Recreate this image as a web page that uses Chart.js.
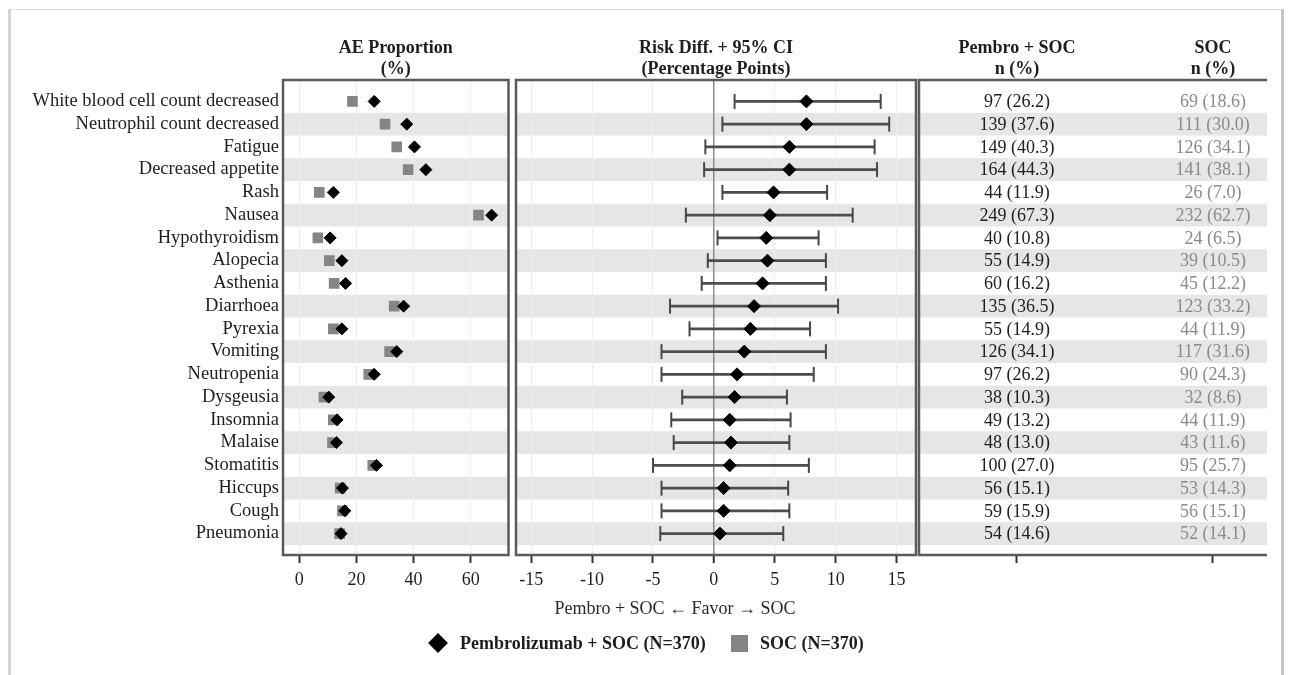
<!DOCTYPE html>
<html>
<head>
<meta charset="utf-8">
<title>Adverse events: proportion and risk difference</title>
<script src="https://cdn.jsdelivr.net/npm/chart.js@4.4.1/dist/chart.umd.min.js"></script>
<style>
  html, body { margin: 0; padding: 0; background: #fff; }
  #page { position: relative; width: 1289px; height: 675px; overflow: hidden;
          font-family: "Liberation Serif", "Times New Roman", serif; color: #1e1e1e; }
  #frame { position: absolute; left: 8px; top: 9px; width: 1270px; height: 720px;
           border-top: 1px solid #dedede; border-left: 3px solid #d4d4d4; border-right: 3px solid #c6c6c6; }
  canvas { position: absolute; top: 0; }
  #c1 { left: 0; }
  #c2 { left: 500px; }
  #c3 { left: 900px; }
  .leg { position: absolute; font-weight: bold; font-size: 18px; line-height: 20px; top: 633px; white-space: nowrap; }
  .sym { position: absolute; }
  #symDiamond { left: 431px; top: 636px; width: 14px; height: 14px; background: #000; transform: rotate(45deg); }
  #symSquare { left: 731px; top: 635px; width: 17px; height: 17px; background: #858585; }
</style>
</head>
<body>
<div id="page">
  <div id="frame"></div>
  <canvas id="c1" width="516" height="675"></canvas>
  <canvas id="c2" width="430" height="675"></canvas>
  <canvas id="c3" width="389" height="675"></canvas>
  <div class="sym" id="symDiamond"></div>
  <div class="leg" id="legPembro" style="left:460px"></div>
  <div class="sym" id="symSquare"></div>
  <div class="leg" id="legSoc" style="left:760px"></div>
</div>
<script>
// ---- data ----
const categories = [
  'White blood cell count decreased', 'Neutrophil count decreased', 'Fatigue',
  'Decreased appetite', 'Rash', 'Nausea', 'Hypothyroidism', 'Alopecia', 'Asthenia',
  'Diarrhoea', 'Pyrexia', 'Vomiting', 'Neutropenia', 'Dysgeusia', 'Insomnia',
  'Malaise', 'Stomatitis', 'Hiccups', 'Cough', 'Pneumonia'
];
const pembroN   = [97, 139, 149, 164, 44, 249, 40, 55, 60, 135, 55, 126, 97, 38, 49, 48, 100, 56, 59, 54];
const pembroPct = [26.2, 37.6, 40.3, 44.3, 11.9, 67.3, 10.8, 14.9, 16.2, 36.5, 14.9, 34.1, 26.2, 10.3, 13.2, 13.0, 27.0, 15.1, 15.9, 14.6];
const socN      = [69, 111, 126, 141, 26, 232, 24, 39, 45, 123, 44, 117, 90, 32, 44, 43, 95, 53, 56, 52];
const socPct    = [18.6, 30.0, 34.1, 38.1, 7.0, 62.7, 6.5, 10.5, 12.2, 33.2, 11.9, 31.6, 24.3, 8.6, 11.9, 11.6, 25.7, 14.3, 15.1, 14.1];
const riskDiff  = [7.6, 7.6, 6.2, 6.2, 4.9, 4.6, 4.3, 4.4, 4.0, 3.3, 3.0, 2.5, 1.9, 1.7, 1.3, 1.4, 1.3, 0.8, 0.8, 0.5];
const ciLow     = [1.7, 0.7, -0.7, -0.8, 0.7, -2.3, 0.3, -0.5, -1.0, -3.6, -2.0, -4.3, -4.3, -2.6, -3.5, -3.3, -5.0, -4.3, -4.3, -4.4];
const ciHigh    = [13.7, 14.4, 13.2, 13.4, 9.3, 11.4, 8.6, 9.2, 9.2, 10.2, 7.9, 9.2, 8.2, 6.0, 6.3, 6.2, 7.8, 6.1, 6.2, 5.7];
const propTicks = [0, 20, 40, 60];
const diffTicks = [-15, -10, -5, 0, 5, 10, 15];
const tableCols = [0, 1];
const pembroLabel = 'Pembrolizumab + SOC (N=370)';
const socLabel = 'SOC (N=370)';
const diffTitle = 'Pembro + SOC \u2190 Favor \u2192 SOC';

// ---- shared look ----
const SERIF = '"Liberation Serif", "Times New Roman", serif';
Chart.defaults.font.family = SERIF;
Chart.defaults.font.size = 18;
Chart.defaults.color = '#1e1e1e';

const rows = categories.map((_, i) => i);
const AREA_BOTTOM = 555;
const BAND = '#e6e6e6';
const FRAME = '#5a5a5a';

document.getElementById('legPembro').textContent = pembroLabel;
document.getElementById('legSoc').textContent = socLabel;

function rowAxis(withLabels) {
  return {
    type: 'linear',
    reverse: true,
    offset: false,
    min: -0.94,
    max: 19.94,
    display: withLabels,
    afterBuildTicks: s => { s.ticks = rows.map(v => ({ value: v })); },
    afterFit: s => { if (withLabels) s.width = 283; },
    grid: { display: false, drawTicks: false, offset: false },
    border: { display: false },
    ticks: { autoSkip: false, padding: 4, color: '#1e1e1e', font: { size: 18.5 }, callback: v => categories[v] }
  };
}

function valueAxis(min, max, tickVals, extra) {
  return Object.assign({
    type: 'linear',
    min: min,
    max: max,
    afterBuildTicks: s => { s.ticks = tickVals.map(v => ({ value: v })); },
    afterFit: s => { s.height = 675 - AREA_BOTTOM; },
    grid: { color: '#eeeeee', lineWidth: 1, tickColor: '#333', tickWidth: 2, tickLength: 8 },
    border: { display: false },
    ticks: { padding: 6, color: '#1e1e1e' }
  }, extra || {});
}

// bands, frame and header text for one panel
function panelPlugin(cfg) {
  return {
    id: 'panel',
    beforeDraw(chart) {
      const { ctx, chartArea: a } = chart;
      const y = chart.scales.y;
      ctx.save();
      ctx.fillStyle = BAND;
      rows.forEach(i => {
        if (i % 2 === 1) {
          const t = y.getPixelForValue(i - 0.5);
          const b = y.getPixelForValue(i + 0.5);
          ctx.fillRect(a.left, t, a.right - a.left, b - t);
        }
      });
      ctx.restore();
    },
    afterDraw(chart) {
      const { ctx, chartArea: a } = chart;
      ctx.save();
      ctx.strokeStyle = FRAME;
      ctx.lineWidth = 2.5;
      if (cfg.openRight) {
        ctx.beginPath();
        ctx.moveTo(a.right, a.top); ctx.lineTo(a.left, a.top);
        ctx.lineTo(a.left, a.bottom); ctx.lineTo(a.right, a.bottom);
        ctx.stroke();
      } else {
        ctx.strokeRect(a.left, a.top, a.right - a.left, a.bottom - a.top);
      }
      // headers
      ctx.fillStyle = '#1e1e1e';
      ctx.textAlign = 'center';
      ctx.textBaseline = 'alphabetic';
      ctx.font = 'bold 18px ' + SERIF;
      cfg.headers.forEach(h => {
        const x = h.col === undefined ? (a.left + a.right) / 2 : chart.scales.x.getPixelForValue(h.col);
        ctx.fillText(h.lines[0], x, 53);
        ctx.fillText(h.lines[1], x, 74);
      });
      if (cfg.afterText) cfg.afterText(chart);
      ctx.restore();
    }
  };
}

// ---- panel 1: AE proportion ----
new Chart(document.getElementById('c1'), {
  type: 'scatter',
  data: {
    datasets: [
      {
        label: pembroLabel,
        data: rows.map(i => ({ x: pembroPct[i], y: i })),
        pointStyle: 'rectRot', pointRadius: 6, borderWidth: 1,
        backgroundColor: '#000', borderColor: '#000'
      },
      {
        label: socLabel,
        data: rows.map(i => ({ x: socPct[i], y: i })),
        pointStyle: 'rect', pointRadius: 7.5, borderWidth: 0,
        backgroundColor: '#858585', borderColor: '#858585'
      }
    ]
  },
  options: {
    responsive: false, animation: false, events: [],
    layout: { padding: { top: 80, right: 4, left: 0, bottom: 0 } },
    plugins: { legend: { display: false }, tooltip: { enabled: false } },
    scales: { x: valueAxis(-5.7, 73.2, propTicks), y: rowAxis(true) }
  },
  plugins: [panelPlugin({ headers: [{ lines: ['AE Proportion', '(%)'] }] })]
});

// ---- panel 2: risk difference with 95% CI ----
new Chart(document.getElementById('c2'), {
  type: 'scatter',
  data: {
    datasets: [
      {
        label: 'Risk difference',
        data: rows.map(i => ({ x: riskDiff[i], y: i })),
        pointStyle: 'rectRot', pointRadius: 6.5, borderWidth: 1,
        backgroundColor: '#000', borderColor: '#000'
      },
      {
        label: 'CI caps',
        data: rows.flatMap(i => [{ x: ciLow[i], y: i }, { x: ciHigh[i], y: i }]),
        pointStyle: 'line', rotation: 90, pointRadius: 7.5, borderWidth: 2,
        borderColor: '#474747'
      },
      {
        type: 'bar',
        label: '95% CI',
        indexAxis: 'y',
        data: rows.map(i => ({ x: [ciLow[i], ciHigh[i]], y: i })),
        barThickness: 2, backgroundColor: '#4d4d4d', borderWidth: 0
      }
    ]
  },
  options: {
    responsive: false, animation: false, events: [],
    layout: { padding: { top: 80, right: 14, left: 16, bottom: 0 } },
    plugins: { legend: { display: false }, tooltip: { enabled: false } },
    scales: {
      x: valueAxis(-16.25, 16.6, diffTicks, {
        grid: {
          color: c => (c.tick && c.tick.value === 0 ? '#8c8c8c' : '#eeeeee'),
          lineWidth: c => (c.tick && c.tick.value === 0 ? 1.5 : 1),
          tickColor: '#333', tickWidth: 2, tickLength: 8
        }
      }),
      y: rowAxis(false)
    }
  },
  plugins: [panelPlugin({
    headers: [{ lines: ['Risk Diff. + 95% CI', '(Percentage Points)'] }],
    afterText(chart) {
      const { ctx, chartArea: a } = chart;
      ctx.font = '18px ' + SERIF;
      ctx.fillStyle = '#2a2a2a';
      ctx.fillText(diffTitle, (a.left + a.right) / 2 - 41, 614);
    }
  })]
});

// ---- panel 3: n (%) table ----
new Chart(document.getElementById('c3'), {
  type: 'scatter',
  data: { datasets: [] },
  options: {
    responsive: false, animation: false, events: [],
    layout: { padding: { top: 80, right: 22, left: 19, bottom: 0 } },
    plugins: { legend: { display: false }, tooltip: { enabled: false } },
    scales: {
      x: valueAxis(-0.5, 1.276, tableCols, {
        grid: { drawOnChartArea: false, tickColor: '#333', tickWidth: 2, tickLength: 8 },
        ticks: { callback: () => '' }
      }),
      y: rowAxis(false)
    }
  },
  plugins: [panelPlugin({
    openRight: true,
    headers: [
      { col: 0, lines: ['Pembro + SOC', 'n (%)'] },
      { col: 1, lines: ['SOC', 'n (%)'] }
    ],
    afterText(chart) {
      const { ctx } = chart;
      const x = chart.scales.x, y = chart.scales.y;
      ctx.font = '18px ' + SERIF;
      ctx.textBaseline = 'middle';
      rows.forEach(i => {
        const py = y.getPixelForValue(i) + 1;
        ctx.fillStyle = '#1e1e1e';
        ctx.fillText(pembroN[i] + ' (' + pembroPct[i].toFixed(1) + ')', x.getPixelForValue(0), py);
        ctx.fillStyle = '#8a8a8a';
        ctx.fillText(socN[i] + ' (' + socPct[i].toFixed(1) + ')', x.getPixelForValue(1), py);
      });
    }
  })]
});
</script>
</body>
</html>
